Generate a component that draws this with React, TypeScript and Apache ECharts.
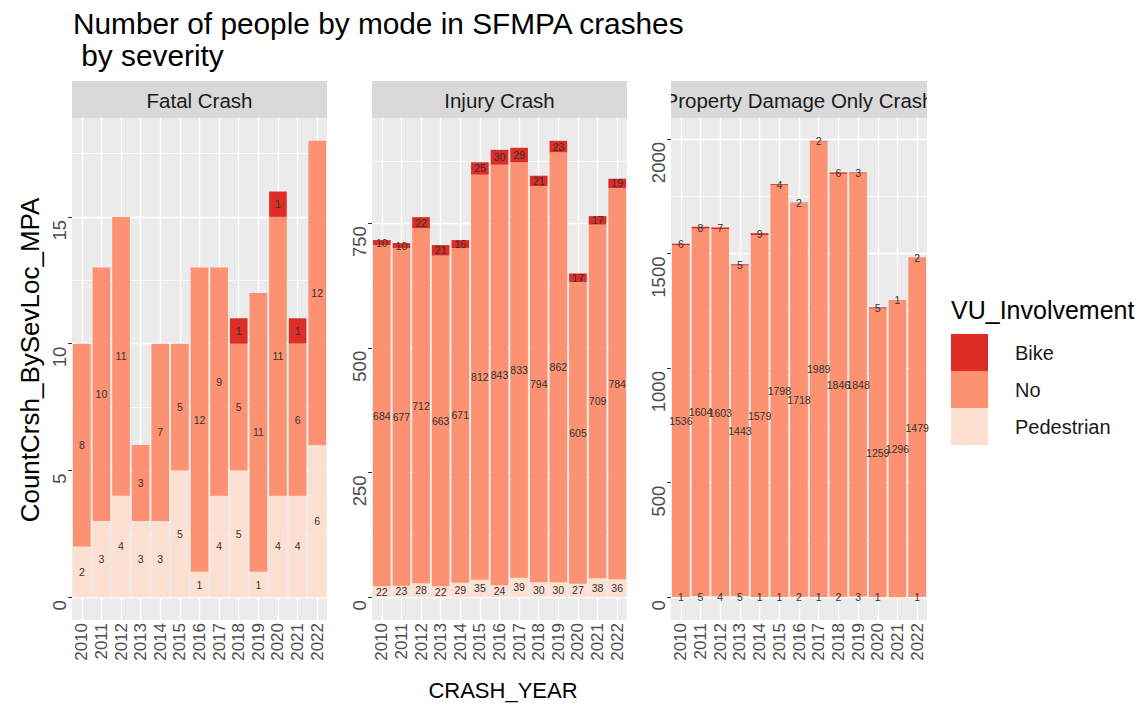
import React, { useEffect, useRef } from "react";
import * as echarts from "echarts";

const years = ["2010", "2011", "2012", "2013", "2014", "2015", "2016", "2017", "2018", "2019", "2020", "2021", "2022"];
const panelTitles = ["Fatal Crash", "Injury Crash", "Property Damage Only Crash"];
const involvement = ["Bike", "No", "Pedestrian"];

const fatalPedestrian = [2, 3, 4, 3, 3, 5, 1, 4, 5, 1, 4, 4, 6];
const fatalNo = [8, 10, 11, 3, 7, 5, 12, 9, 5, 11, 11, 6, 12];
const fatalBike = [null, null, null, null, null, null, null, null, 1, null, 1, 1, null];

const injuryPedestrian = [22, 23, 28, 22, 29, 35, 24, 39, 30, 30, 27, 38, 36];
const injuryNo = [684, 677, 712, 663, 671, 812, 843, 833, 794, 862, 605, 709, 784];
const injuryBike = [10, 10, 22, 21, 16, 25, 30, 29, 21, 23, 17, 17, 19];

const propertyPedestrian = [1, 5, 4, 5, 1, 1, 2, 1, 2, 3, 1, null, 1];
const propertyNo = [1536, 1604, 1603, 1443, 1579, 1798, 1718, 1989, 1846, 1848, 1259, 1296, 1479];
const propertyBike = [6, 8, 7, 5, 9, 4, 2, 2, 6, 3, 5, 1, 2];

const fatalTicks = [0, 5, 10, 15];
const fatalMinor = [2.5, 7.5, 12.5, 17.5];
const injuryTicks = [0, 250, 500, 750];
const injuryMinor = [125, 375, 625, 875];
const propertyTicks = [0, 500, 1000, 1500, 2000];
const propertyMinor = [250, 750, 1250, 1750];

const colors: Record<string, string> = { Bike: "#DE2D26", No: "#FC9272", Pedestrian: "#FEE0D2" };
const FONT = "Liberation Sans";

const panels = [
  { title: panelTitles[0], ped: fatalPedestrian, no: fatalNo, bike: fatalBike, major: fatalTicks, minor: fatalMinor },
  { title: panelTitles[1], ped: injuryPedestrian, no: injuryNo, bike: injuryBike, major: injuryTicks, minor: injuryMinor },
  { title: panelTitles[2], ped: propertyPedestrian, no: propertyNo, bike: propertyBike, major: propertyTicks, minor: propertyMinor },
];

const gridLefts = [72, 372, 671];
const gridWidths = [255, 255, 256];
const gridTop = 118;
const gridHeight = 502;

function buildOption() {
  const grids: any[] = [];
  const xAxes: any[] = [];
  const yAxes: any[] = [];
  const series: any[] = [];
  const graphics: any[] = [];

  panels.forEach((p, i) => {
    const totals = years.map((_, j) => (p.ped[j] || 0) + (p.no[j] || 0) + (p.bike[j] || 0));
    const maxT = Math.max(...totals);
    grids.push({
      left: gridLefts[i],
      top: gridTop,
      width: gridWidths[i],
      height: gridHeight,
      show: true,
      backgroundColor: "#EBEBEB",
      borderWidth: 0,
    });
    xAxes.push({
      type: "category",
      gridIndex: i,
      data: years,
      axisLine: { show: false },
      axisTick: { show: true, length: 4, alignWithLabel: true, lineStyle: { color: "#333", width: 1 } },
      axisLabel: { rotate: 90, interval: 0, fontSize: 17, color: "#4D4D4D", margin: 3, fontFamily: FONT },
      splitLine: { show: false },
    });
    yAxes.push({
      type: "value",
      gridIndex: i,
      min: -0.05 * maxT,
      max: 1.05 * maxT,
      axisLine: { show: false },
      axisTick: { show: true, length: 4, customValues: p.major, lineStyle: { color: "#333", width: 1 } },
      axisLabel: {
        customValues: p.major,
        formatter: (v: number) => String(v),
        rotate: 90,
        align: "right",
        verticalAlign: "bottom",
        padding: [0, 3, 0, 0],
        fontSize: 18.5,
        color: "#4D4D4D",
        margin: 3,
        fontFamily: FONT,
      },
      splitLine: { show: false },
    });
    const label = { show: true, position: "inside", fontSize: 10.5, color: "#333", fontFamily: FONT };
    const segs: [string, any[]][] = [
      ["Pedestrian", p.ped],
      ["No", p.no],
      ["Bike", p.bike],
    ];
    segs.forEach(([name, data]) => {
      series.push({
        name,
        type: "bar",
        stack: "s" + i,
        xAxisIndex: i,
        yAxisIndex: i,
        data,
        barCategoryGap: "10%",
        itemStyle: { color: colors[name] },
        label,
        z: 2,
        emphasis: { disabled: true },
      });
    });
    series.push({
      type: "line",
      xAxisIndex: i,
      yAxisIndex: i,
      data: [],
      silent: true,
      z: 1,
      markLine: {
        z: 1,
        silent: true,
        symbol: ["none", "none"],
        label: { show: false },
        emphasis: { disabled: true },
        lineStyle: { type: "solid", color: "#FFFFFF", width: 1.4 },
        data: [
          ...p.minor.map((v) => ({ yAxis: v, lineStyle: { type: "solid", color: "#FFFFFF", width: 0.7 } })),
          ...p.major.map((v) => ({ yAxis: v, lineStyle: { type: "solid", color: "#FFFFFF", width: 1.4 } })),
          ...years.map((y) => ({ xAxis: y, lineStyle: { type: "solid", color: "#FFFFFF", width: 1.4 } })),
        ],
      },
    });

    graphics.push({
      type: "rect",
      z: 10,
      shape: { x: gridLefts[i], y: 81, width: gridWidths[i], height: 37 },
      style: { fill: "#D9D9D9" },
    });
    graphics.push({
      type: "text",
      z: 11,
      x: gridLefts[i] + gridWidths[i] / 2,
      y: 100,
      style: {
        text: p.title,
        fontSize: 20.5,
        fontFamily: FONT,
        fill: "#1A1A1A",
        align: "center",
        verticalAlign: "middle",
      },
    });
  });

  // white covers clipping the overflowing strip text
  graphics.push({ type: "rect", z: 20, shape: { x: 627, y: 78, width: 44, height: 42 }, style: { fill: "#FFFFFF" } });
  graphics.push({ type: "rect", z: 20, shape: { x: 927, y: 78, width: 20, height: 42 }, style: { fill: "#FFFFFF" } });

  graphics.push({
    type: "text",
    z: 11,
    x: 30,
    y: 360,
    rotation: Math.PI / 2,
    style: {
      text: "CountCrsh_BySevLoc_MPA",
      fontSize: 26,
      fontFamily: FONT,
      fill: "#000",
      align: "center",
      verticalAlign: "middle",
    },
  });
  graphics.push({
    type: "text",
    z: 11,
    x: 503,
    y: 690,
    style: {
      text: "CRASH_YEAR",
      fontSize: 22,
      fontFamily: FONT,
      fill: "#000",
      align: "center",
      verticalAlign: "middle",
    },
  });

  return {
    animation: false,
    textStyle: { fontFamily: FONT },
    title: [
      {
        text: "Number of people by mode in SFMPA crashes\n by severity",
        left: 68,
        top: 2,
        textStyle: { fontSize: 29.8, fontWeight: "normal", color: "#000", lineHeight: 32, fontFamily: FONT },
      },
      {
        text: "VU_Involvement",
        left: 946,
        top: 292,
        textStyle: { fontSize: 25, fontWeight: "normal", color: "#000", fontFamily: FONT },
      },
    ],
    legend: {
      data: involvement,
      orient: "vertical",
      left: 946,
      top: 329,
      itemWidth: 37,
      itemHeight: 37,
      itemGap: 0,
      icon: "rect",
      selectedMode: false,
      textStyle: { fontSize: 20, color: "#1A1A1A", fontFamily: FONT, padding: [0, 0, 0, 22] },
    },
    grid: grids,
    xAxis: xAxes,
    yAxis: yAxes,
    series,
    graphic: graphics,
  };
}

export default function App() {
  const ref = useRef<HTMLDivElement>(null);
  useEffect(() => {
    if (!ref.current) return;
    const chart = echarts.init(ref.current, undefined, { renderer: "svg" });
    chart.setOption(buildOption() as any);
    return () => chart.dispose();
  }, []);
  return (
    <div
      ref={ref}
      style={{ position: "fixed", left: 0, top: 0, width: 1143, height: 707, background: "#fff" }}
    />
  );
}
